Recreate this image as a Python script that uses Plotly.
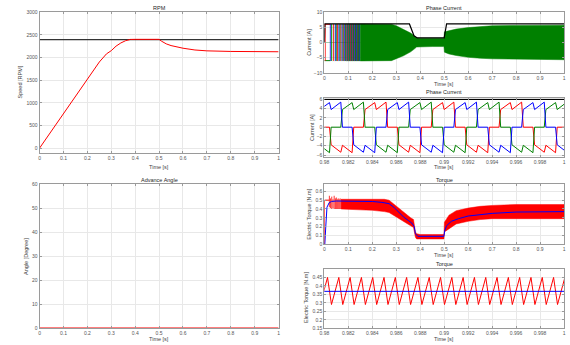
import plotly.graph_objects as go

# ---------------- data ----------------
# RPM panel
rpm_t = [0, 0.05, 0.1, 0.15, 0.2, 0.25, 0.28, 0.3, 0.32, 0.34, 0.36, 0.37, 0.38, 0.4, 0.5, 0.51, 0.53, 0.55, 0.6, 0.65, 0.7, 0.8, 0.9, 1.0]
rpm_speed = [0, 385, 770, 1155, 1540, 1900, 2080, 2150, 2250, 2320, 2370, 2390, 2398, 2400, 2400, 2360, 2300, 2262, 2204, 2165, 2146, 2133, 2128, 2126]
rpm_ref_t = [0, 1.0]
rpm_ref = [2395, 2395]

# Advance angle panel
ang_t = [0, 1.0]
ang_deg = [0, 0]

# Phase current (0..1 s) : envelope of the dense switching band
cur_env_t = [0, 0.03, 0.09, 0.15, 0.28, 0.30, 0.33, 0.36, 0.375, 0.385, 0.40, 0.45, 0.499, 0.501, 0.52, 0.55, 0.6, 0.65, 0.7, 0.8, 0.9, 1.0]
cur_env_hi = [6.1, 6.1, 6.1, 6.1, 6.0, 5.5, 4.4, 3.1, 2.2, 1.5, 1.4, 1.4, 1.4, 3.5, 3.9, 4.4, 4.9, 5.2, 5.5, 5.6, 5.65, 5.7]
cur_env_lo = [-6.1, -6.1, -6.1, -6.1, -6.0, -5.5, -4.4, -3.1, -2.2, -1.5, -1.35, -1.35, -1.35, -3.2, -3.8, -4.3, -4.9, -5.2, -5.4, -5.6, -5.65, -5.7]
cur_lim_t = [0, 0.002, 0.355, 0.374, 0.388, 0.5, 0.51, 1.0]
cur_lim = [0, 6.1, 6.1, 2.2, 1.5, 1.5, 6.1, 6.1]
# commutation edges seen during start-up
edges_blue = [0.025, 0.046, 0.061, 0.074, 0.085, 0.095, 0.104, 0.112, 0.12, 0.127, 0.134, 0.141, 0.147]
edges_red = [0.004, 0.038, 0.055, 0.069, 0.081, 0.091, 0.1, 0.109, 0.117, 0.124, 0.131, 0.138, 0.144]
edges_green = [0.03, 0.05, 0.065, 0.078, 0.088, 0.098, 0.106, 0.114, 0.122, 0.13, 0.137, 0.143, 0.149]

# Phase current zoom (0.98..1.0 s): vertices of the trapezoidal waveforms
zc_t = [0.979488, 0.979625, 0.980431, 0.980568, 0.981374, 0.981511, 0.982317, 0.982454,
        0.983260, 0.983397, 0.984203, 0.984340, 0.985146, 0.985283, 0.986089, 0.986226,
        0.987032, 0.987169, 0.987975, 0.988112, 0.988918, 0.989055, 0.989861, 0.989998,
        0.990804, 0.990941, 0.991747, 0.991884, 0.992690, 0.992827, 0.993633, 0.993770,
        0.994576, 0.994713, 0.995519, 0.995656, 0.996462, 0.996599, 0.997405, 0.997542,
        0.998348, 0.998485, 0.999291, 0.999428, 1.000234, 1.000371]
zc_green = [-5.4, -3.9, -5.5, 0, 0, 3.8, 5.3, 3.8, 5.4, 0, 0, -3.8, -5.4, -3.9, -5.5, 0,
            0, 3.8, 5.3, 3.8, 5.4, 0, 0, -3.8, -5.4, -3.9, -5.5, 0, 0, 3.8, 5.3, 3.8,
            5.4, 0, 0, -3.8, -5.4, -3.9, -5.5, 0, 0, 3.8, 5.3, 3.8, 5.4, 0]
zc_red = [5.4, 0, 0, -3.8, -5.4, -3.9, -5.5, 0, 0, 3.8, 5.3, 3.8, 5.4, 0, 0, -3.8,
          -5.4, -3.9, -5.5, 0, 0, 3.8, 5.3, 3.8, 5.4, 0, 0, -3.8, -5.4, -3.9, -5.5, 0,
          0, 3.8, 5.3, 3.8, 5.4, 0, 0, -3.8, -5.4, -3.9, -5.5, 0, 0, 3.8]
zc_blue = [0, 3.8, 5.3, 3.8, 5.4, 0, 0, -3.8, -5.4, -3.9, -5.5, 0, 0, 3.8, 5.3, 3.8,
           5.4, 0, 0, -3.8, -5.4, -3.9, -5.5, 0, 0, 3.8, 5.3, 3.8, 5.4, 0, 0, -3.8,
           -5.4, -3.9, -5.5, 0, 0, 3.8, 5.3, 3.8, 5.4, 0, 0, -3.8, -5.4, -3.9]
zc_lim_t = [0.978, 1.002]
zc_lim = [6, 6]

# Torque (0..1 s)
tq_env_t = [0.07, 0.1, 0.15, 0.2, 0.25, 0.27, 0.3, 0.33, 0.36, 0.372, 0.38, 0.385, 0.4, 0.45, 0.499, 0.501, 0.52, 0.55, 0.6, 0.65, 0.7, 0.8, 0.9, 1.0]
tq_env_hi = [0.51, 0.51, 0.51, 0.51, 0.51, 0.5, 0.43, 0.36, 0.3, 0.28, 0.14, 0.12, 0.11, 0.11, 0.11, 0.25, 0.33, 0.38, 0.41, 0.43, 0.44, 0.45, 0.45, 0.45]
tq_env_lo = [0.40, 0.40, 0.39, 0.385, 0.37, 0.36, 0.31, 0.26, 0.21, 0.19, 0.08, 0.06, 0.06, 0.06, 0.06, 0.14, 0.18, 0.23, 0.26, 0.28, 0.29, 0.29, 0.29, 0.29]
tq_start_t = [0, 0.0005, 0.021]
tq_start = [0, 0.5, 0.5]
tq_spike_t = [0.021, 0.026, 0.031, 0.036, 0.041, 0.046, 0.05, 0.054, 0.058, 0.062, 0.066, 0.07]
tq_spike_hi = [0.55, 0.52, 0.54, 0.51, 0.55, 0.52, 0.53, 0.51, 0.52, 0.51, 0.52, 0.51]
tq_spike_lo = [0.42, 0.41, 0.40, 0.41, 0.40, 0.40, 0.40, 0.40, 0.40, 0.40, 0.40, 0.40]
tq_mean_t = [0, 0.002, 0.006, 0.011, 0.02, 0.03, 0.05, 0.1, 0.2, 0.24, 0.27, 0.29, 0.31, 0.33, 0.35, 0.365, 0.375, 0.38, 0.39, 0.45, 0.499, 0.502, 0.51, 0.53, 0.56, 0.6, 0.7, 0.8, 0.9, 1.0]
tq_mean = [0, 0.0, 0.2, 0.42, 0.47, 0.485, 0.49, 0.49, 0.485, 0.475, 0.46, 0.42, 0.36, 0.31, 0.27, 0.24, 0.2, 0.12, 0.09, 0.09, 0.09, 0.15, 0.21, 0.26, 0.29, 0.32, 0.35, 0.365, 0.37, 0.37]

# Torque zoom (0.98..1.0 s)
zt_t = [0.979323, 0.979653, 0.980266, 0.980596, 0.981209, 0.981539, 0.982152, 0.982482,
        0.983095, 0.983425, 0.984038, 0.984368, 0.984981, 0.985311, 0.985924, 0.986254,
        0.986867, 0.987197, 0.987810, 0.988140, 0.988753, 0.989083, 0.989696, 0.990026,
        0.990639, 0.990969, 0.991582, 0.991912, 0.992525, 0.992855, 0.993468, 0.993798,
        0.994411, 0.994741, 0.995354, 0.995684, 0.996297, 0.996627, 0.997240, 0.997570,
        0.998183, 0.998513, 0.999126, 0.999456, 1.000069, 1.000399]
zt_torque = [0.45, 0.29, 0.45, 0.29, 0.45, 0.29, 0.45, 0.29, 0.45, 0.29,
             0.45, 0.29, 0.45, 0.29, 0.45, 0.29, 0.45, 0.29, 0.45, 0.29, 0.45, 0.29,
             0.45, 0.29, 0.45, 0.29, 0.45, 0.29, 0.45, 0.29, 0.45, 0.29, 0.45, 0.29,
             0.45, 0.29, 0.45, 0.29, 0.45, 0.29, 0.45, 0.29, 0.45, 0.29, 0.45, 0.29]
zt_mean_t = [0.978, 1.002]
zt_mean = [0.368, 0.368]

# ticks
t_ticks = [0, 0.1, 0.2, 0.3, 0.4, 0.5, 0.6, 0.7, 0.8, 0.9, 1]
t_labels = ["0", "0.1", "0.2", "0.3", "0.4", "0.5", "0.6", "0.7", "0.8", "0.9", "1"]
z_ticks = [0.98, 0.982, 0.984, 0.986, 0.988, 0.99, 0.992, 0.994, 0.996, 0.998, 1.0]
z_labels = ["0.98", "0.982", "0.984", "0.986", "0.988", "0.99", "0.992", "0.994", "0.996", "0.998", "1"]

# ---------------- figure ----------------
RED = "#ff0000"; BLUE = "#0000ff"; GREEN = "#008000"; BLACK = "#000000"
fig = go.Figure()

def line(x, y, color, ax, width=1.0, opacity=1.0):
    fig.add_trace(go.Scatter(x=x, y=y, mode="lines", line=dict(color=color, width=width),
                             opacity=opacity, xaxis="x" + ax, yaxis="y" + ax,
                             hoverinfo="skip", showlegend=False))

def band(t, hi, lo, color, ax, opacity=1.0):
    fig.add_trace(go.Scatter(x=list(t) + list(t)[::-1], y=list(hi) + list(lo)[::-1],
                             mode="lines", fill="toself", fillcolor=color,
                             line=dict(color=color, width=0.5), opacity=opacity,
                             xaxis="x" + ax, yaxis="y" + ax, hoverinfo="skip", showlegend=False))

def vlines(ts, lo, hi, color, ax, width=0.8):
    xs, ys = [], []
    for i, t in enumerate(ts):
        a = lo[i] if isinstance(lo, list) else lo
        b = hi[i] if isinstance(hi, list) else hi
        xs += [t, t, None]; ys += [a, b, None]
    line(xs, ys, color, ax, width)

# 1: RPM
line(rpm_ref_t, rpm_ref, "#333333", "", 1.2)
line(rpm_t, rpm_speed, RED, "", 1.0)
# 2: angle
line(ang_t, ang_deg, RED, "2", 1.5)
# 3: phase current
i1 = cur_env_t.index(0.09); i2 = cur_env_t.index(0.15)
band(cur_env_t[1:i1 + 1], cur_env_hi[1:i1 + 1], cur_env_lo[1:i1 + 1], GREEN, "3", 0.15)
band(cur_env_t[i1:i2 + 1], cur_env_hi[i1:i2 + 1], cur_env_lo[i1:i2 + 1], GREEN, "3", 0.45)
band(cur_env_t[i2:], cur_env_hi[i2:], cur_env_lo[i2:], GREEN, "3", 1.0)
line([0, 0.025], [6.0, 6.0], RED, "3", 1.0)
line([0, 0.025], [-6.0, -6.0], GREEN, "3", 1.0)
line([0, 0.15], [0, 0], GREEN, "3", 0.6, 0.5)
vlines(edges_red, -6.1, 6.1, RED, "3", 0.8)
vlines(edges_blue, -6.1, 6.1, BLUE, "3", 0.8)
vlines(edges_green, -6.1, 6.1, GREEN, "3", 0.8)
line(cur_lim_t, cur_lim, BLACK, "3", 1.2)
# 4: phase current zoom
line(zc_t, zc_red, RED, "4", 1.0)
line(zc_t, zc_green, GREEN, "4", 1.0)
line(zc_t, zc_blue, BLUE, "4", 1.0)
line(zc_lim_t, zc_lim, BLACK, "4", 1.3)
# 5: torque
band(tq_env_t, tq_env_hi, tq_env_lo, RED, "5")
line(tq_start_t, tq_start, RED, "5", 1.0)
vlines(tq_spike_t, tq_spike_lo, tq_spike_hi, RED, "5", 0.8)
line(tq_mean_t, tq_mean, BLUE, "5", 1.0)
# 6: torque zoom
line(zt_t, zt_torque, RED, "6", 1.0)
line(zt_mean_t, zt_mean, BLUE, "6", 1.0)

# ---------------- layout ----------------
W, H = 570, 345
XL = [35 / W, 277 / W]
XR = [323.3 / W, 566 / W]
def dom(top, bot):
    return [1 - bot / H, 1 - top / H]

axcommon = dict(showline=True, mirror="ticks", linecolor="#9a9a9a", linewidth=1,
                showgrid=True, gridcolor="#e8e8e8", gridwidth=0.6, zeroline=False,
                ticks="inside", ticklen=2, tickcolor="#9a9a9a",
                tickfont=dict(family="Liberation Sans, Arial", size=5, color="#555555"))

def xax(domain, anchor, rng, tv, tt):
    d = dict(axcommon); d.update(domain=domain, anchor=anchor, range=rng, tickvals=tv, ticktext=tt,
                                 ticklabeloverflow="allow")
    return d

def yax(domain, anchor, rng, tv):
    d = dict(axcommon); d.update(domain=domain, anchor=anchor, range=rng, tickvals=tv)
    return d

fig.update_layout(
    width=W, height=H, margin=dict(l=0, r=0, t=0, b=0),
    paper_bgcolor="white", plot_bgcolor="white", showlegend=False,
    xaxis=xax(XL, "y", [0, 1], t_ticks, t_labels),
    yaxis=yax(dom(9.3, 152.3), "x", [-100, 3000], [0, 500, 1000, 1500, 2000, 2500, 3000]),
    xaxis2=xax(XL, "y2", [0, 1], t_ticks, t_labels),
    yaxis2=yax(dom(184.3, 331), "x2", [0, 60], [0, 10, 20, 30, 40, 50, 60]),
    xaxis3=xax(XR, "y3", [0, 1], t_ticks, t_labels),
    yaxis3=yax(dom(9.3, 71), "x3", [-10, 10], [-10, -5, 0, 5, 10]),
    xaxis4=xax(XR, "y4", [0.98, 1.0], z_ticks, z_labels),
    yaxis4=yax(dom(97.1, 156.6), "x4", [-6.4, 6.2], [-6, -4, -2, 0, 2, 4, 6]),
    xaxis5=xax(XR, "y5", [0, 1], t_ticks, t_labels),
    yaxis5=yax(dom(184.5, 245.5), "x5", [0, 0.68], [0, 0.1, 0.2, 0.3, 0.4, 0.5, 0.6]),
    xaxis6=xax(XR, "y6", [0.98, 1.0], z_ticks, z_labels),
    yaxis6=yax(dom(270.7, 331), "x6", [0.15, 0.5], [0.15, 0.2, 0.25, 0.3, 0.35, 0.4, 0.45]),
)

FONT = "Liberation Sans, Arial"
def ann(text, x, y, size=5.5, angle=0, color="#262626"):
    fig.add_annotation(text=text, x=x / W, y=1 - y / H, xref="paper", yref="paper",
                       showarrow=False, textangle=angle, xanchor="center", yanchor="middle",
                       borderpad=0, font=dict(family=FONT, size=size, color=color))

cl = (35 + 277) / 2
cr = (323.3 + 566) / 2
# titles
ann("RPM", cl, 5, 5.5)
ann("Advance Angle", cl, 180, 5.5)
ann("Phase Current", cr, 5, 5.5)
ann("Phase Current", cr, 90.7, 5.5)
ann("Torque", cr, 180.5, 5.5)
ann("Torque", cr, 266, 5.5)
# x labels
ann("Time [s]", cl, 167.3, 5.5, color="#444444")
ann("Time [s]", cl, 341.5, 5.5, color="#444444")
ann("Time [s]", cr, 82, 5.5, color="#444444")
ann("Time [s]", cr, 167, 5.5, color="#444444")
ann("Time [s]", cr, 256.5, 5.5, color="#444444")
ann("Time [s]", cr, 341.5, 5.5, color="#444444")
# y labels
ann("Speed [RPM]", 15, 80, 5.5, -90, "#444444")
ann("Angle [Degree]", 20.7, 258, 5.5, -90, "#444444")
ann("Current [A]", 308.3, 40, 5.5, -90, "#444444")
ann("Current [A]", 311, 127, 5.5, -90, "#444444")
ann("Electric Torque [N.m]", 308.3, 215, 5.5, -90, "#444444")
ann("Electric Torque [N.m]", 305, 300, 5.5, -90, "#444444")

# remove the browser's default page margin so the figure sits at (0, 0); hide the mode bar
fig.write_html("out.html", config={"displayModeBar": False},
               post_script="document.body.style.margin='0';")
